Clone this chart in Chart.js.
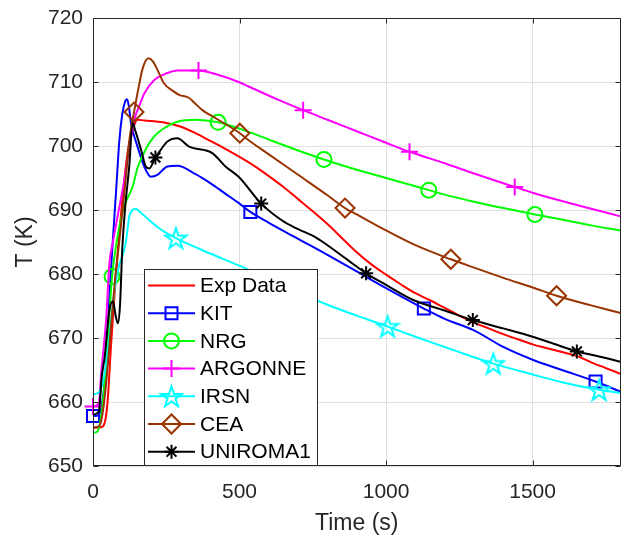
<!DOCTYPE html>
<html>
<head>
<meta charset="utf-8">
<script src="https://cdn.jsdelivr.net/npm/chart.js@4.4.0/dist/chart.umd.min.js"></script>
<style>
  html, body { margin: 0; padding: 0; background: #fff; }
</style>
</head>
<body>
<canvas id="chart" width="631" height="539"></canvas>
<script>
// ---- data (time in s, temperature in K) ----
const expTime = [0, 20, 34, 45, 51, 62, 73, 85, 90, 100, 110, 120, 130, 140, 152, 175, 200, 250, 300, 350, 400, 450, 500, 550, 600, 650, 700, 750, 800, 850, 900, 950, 1000, 1050, 1100, 1150, 1200, 1250, 1300, 1350, 1400, 1450, 1500, 1550, 1600, 1650, 1700, 1750, 1800];
const expTemp = [656.0, 656.0, 656.2, 658.0, 660.8, 669.2, 676.5, 683.8, 686.5, 691.5, 696.0, 699.5, 701.6, 703.2, 704.1, 704.0, 703.9, 703.6, 703.0, 702.0, 700.8, 699.6, 698.3, 696.9, 695.3, 693.6, 691.7, 689.8, 687.8, 685.6, 683.4, 681.5, 679.9, 678.4, 677.0, 675.9, 674.7, 673.5, 672.4, 671.5, 670.6, 669.8, 669.0, 668.4, 667.8, 667.2, 666.2, 665.3, 664.4];

const kitTime = [0, 20, 30, 45, 56, 68, 79, 90, 100, 110, 116, 122, 130, 152, 175, 197, 220, 254, 288, 350, 400, 450, 500, 537, 600, 700, 800, 900, 1000, 1100, 1129, 1200, 1300, 1400, 1500, 1600, 1715, 1800];
const kitTemp = [657.8, 658.0, 659.5, 666.0, 676.5, 685.5, 693.1, 700.9, 705.0, 707.0, 707.3, 706.3, 703.5, 699.9, 696.8, 695.2, 695.5, 696.8, 696.9, 695.6, 694.2, 692.6, 691.0, 689.7, 688.0, 685.5, 683.0, 680.4, 677.8, 675.3, 674.6, 673.0, 671.2, 668.6, 666.6, 665.0, 663.2, 661.6];

const nrgTime = [0, 15, 25, 40, 55, 65, 80, 95, 110, 135, 152, 180, 209, 250, 288, 350, 427, 500, 531, 600, 700, 788, 900, 1000, 1100, 1146, 1200, 1300, 1400, 1508, 1600, 1700, 1800];
const nrgTemp = [655.2, 655.4, 657.0, 663.2, 673.0, 679.6, 684.8, 688.5, 691.0, 693.6, 696.6, 699.5, 701.5, 703.0, 703.8, 704.1, 703.7, 702.7, 702.2, 701.0, 699.3, 697.9, 696.3, 695.0, 693.7, 693.1, 692.4, 691.3, 690.3, 689.3, 688.5, 687.6, 686.8];

const argTime = [0, 20, 28, 45, 56, 68, 79, 90, 107, 125, 141, 160, 175, 209, 254, 288, 360, 420, 497, 531, 633, 717, 800, 900, 1000, 1080, 1200, 1300, 1439, 1500, 1600, 1700, 1800];
const argTemp = [659.3, 659.8, 664.5, 673.0, 681.7, 685.0, 687.8, 690.5, 694.7, 700.0, 704.1, 706.5, 708.2, 710.3, 711.4, 711.8, 711.8, 711.2, 710.0, 709.3, 707.2, 705.6, 704.1, 702.3, 700.5, 699.1, 697.3, 695.7, 693.6, 692.7, 691.4, 690.2, 689.0];

const irsnTime = [0, 20, 30, 45, 60, 75, 90, 105, 113, 124, 135, 145, 165, 200, 240, 283, 400, 500, 600, 644, 700, 800, 900, 1005, 1100, 1200, 1300, 1366, 1500, 1600, 1727, 1800];
const irsnTemp = [661.2, 661.5, 662.5, 666.0, 672.0, 678.0, 681.5, 683.5, 685.3, 689.0, 690.0, 690.2, 689.5, 688.1, 686.7, 685.6, 683.2, 681.3, 679.2, 678.3, 677.1, 675.2, 673.5, 671.8, 670.2, 668.6, 667.0, 666.0, 664.3, 663.1, 661.9, 661.4];

const ceaTime = [0, 20, 30, 45, 60, 75, 90, 110, 124, 140, 155, 170, 189, 205, 220, 242, 276, 294, 328, 345, 373, 420, 501, 531, 600, 700, 800, 860, 900, 1000, 1100, 1221, 1300, 1400, 1500, 1582, 1700, 1800];
const ceaTemp = [656.0, 656.2, 657.5, 663.0, 671.0, 679.0, 685.3, 694.0, 700.9, 705.3, 709.0, 712.2, 713.7, 713.2, 711.9, 709.8, 708.5, 708.0, 707.5, 706.8, 705.6, 704.3, 702.0, 700.9, 698.7, 695.5, 692.3, 690.3, 689.3, 686.8, 684.5, 682.3, 681.0, 679.4, 677.9, 676.6, 675.1, 673.9];

const uniTime = [0, 20, 30, 40, 56, 68, 78, 85, 92, 100, 110, 124, 135, 145, 164, 180, 192, 213, 231, 254, 288, 328, 407, 452, 497, 574, 644, 700, 757, 800, 869, 932, 1000, 1095, 1200, 1296, 1400, 1478, 1560, 1651, 1720, 1800];
const uniTemp = [658.0, 658.5, 664.0, 667.1, 674.4, 675.7, 673.3, 672.3, 675.0, 684.0, 690.5, 697.0, 703.6, 702.3, 699.4, 696.8, 696.5, 698.2, 699.4, 700.7, 701.2, 699.9, 698.9, 696.8, 695.2, 691.0, 688.4, 687.0, 685.8, 684.5, 682.2, 680.1, 678.3, 675.9, 674.3, 672.8, 671.5, 670.5, 669.3, 667.9, 667.2, 666.3];

// times where the markers sit
const kitMarks = [0, 537, 1129, 1715];
const nrgMarks = [65, 427, 788, 1146, 1508];
const argMarks = [0, 360, 717, 1080, 1439];
const irsnMarks = [283, 644, 1005, 1366, 1727];
const ceaMarks = [140, 501, 860, 1221, 1582];
const uniMarks = [213, 574, 932, 1296, 1651];

const xTicks = [0, 500, 1000, 1500];
const yTicks = [650, 660, 670, 680, 690, 700, 710, 720];

const FONT = "'Liberation Sans', Arial, Helvetica, sans-serif";
const AXIS = '#262626';

// pentagram marker (no built-in one in Chart.js)
function starPath(ctx, cx, cy, R) {
    const r = R * 0.382;
    ctx.beginPath();
    for (let i = 0; i < 10; i++) {
        const a = -Math.PI / 2 + i * Math.PI / 5;
        const rr = i % 2 ? r : R;
        ctx.lineTo(cx + rr * Math.cos(a), cy + rr * Math.sin(a));
    }
    ctx.closePath();
}
const starImg = document.createElement('canvas');
starImg.width = 26; starImg.height = 26;
(function () {
    const c = starImg.getContext('2d');
    c.strokeStyle = '#00ffff';
    c.lineWidth = 2;
    c.lineJoin = 'miter';
    starPath(c, 13, 14, 11);
    c.stroke();
})();

function pts(t, v) {
    return t.map((x, i) => ({ x: x, y: v[i] }));
}

function series(label, t, v, color, style, radius, marks, order) {
    return {
        label: label,
        data: pts(t, v),
        borderColor: color,
        backgroundColor: color,
        borderWidth: 2,
        pointStyle: style,
        pointBorderColor: color,
        pointBackgroundColor: 'rgba(0,0,0,0)',
        pointBorderWidth: 2,
        pointRadius: ctx => (marks.includes(t[ctx.dataIndex]) ? radius : 0),
        pointHoverRadius: 0,
        cubicInterpolationMode: 'monotone',
        clip: false,
        order: order
    };
}

const datasets = [
    series('Exp Data', expTime, expTemp, '#ff0000', 'circle', 0, [], 7),
    series('KIT', kitTime, kitTemp, '#0000ff', 'rect', 8.5, kitMarks, 6),
    series('NRG', nrgTime, nrgTemp, '#00ff00', 'circle', 7.5, nrgMarks, 5),
    series('ARGONNE', argTime, argTemp, '#ff00ff', 'cross', 8.5, argMarks, 4),
    series('IRSN', irsnTime, irsnTemp, '#00ffff', starImg, 11, irsnMarks, 3),
    series('CEA', ceaTime, ceaTemp, '#993300', 'rectRot', 9.5, ceaMarks, 2),
    series('UNIROMA1', uniTime, uniTemp, '#000000', 'star', 7, uniMarks, 1)
];

const legendMarks = [null, 'square', 'circle', 'plus', 'pentagram', 'diamond', 'asterisk'];

function drawMarker(ctx, kind, x, y, color) {
    ctx.save();
    ctx.strokeStyle = color;
    ctx.lineWidth = 2;
    ctx.beginPath();
    if (kind === 'square') {
        ctx.rect(x - 6, y - 6, 12, 12);
    } else if (kind === 'circle') {
        ctx.arc(x, y, 7.5, 0, Math.PI * 2);
    } else if (kind === 'plus') {
        ctx.moveTo(x - 8.5, y); ctx.lineTo(x + 8.5, y);
        ctx.moveTo(x, y - 8.5); ctx.lineTo(x, y + 8.5);
    } else if (kind === 'pentagram') {
        starPath(ctx, x, y + 1, 11);
    } else if (kind === 'diamond') {
        ctx.moveTo(x - 9.5, y); ctx.lineTo(x, y - 9.5);
        ctx.lineTo(x + 9.5, y); ctx.lineTo(x, y + 9.5);
        ctx.closePath();
    } else if (kind === 'asterisk') {
        const d = 7 * Math.SQRT1_2;
        ctx.moveTo(x - 7, y); ctx.lineTo(x + 7, y);
        ctx.moveTo(x, y - 7); ctx.lineTo(x, y + 7);
        ctx.moveTo(x - d, y - d); ctx.lineTo(x + d, y + d);
        ctx.moveTo(x - d, y + d); ctx.lineTo(x + d, y - d);
    }
    ctx.stroke();
    ctx.restore();
}

// box around the axes, inward ticks and the legend box inside the plot
const framePlugin = {
    id: 'frame',
    afterDatasetsDraw(chart) {
        const ctx = chart.ctx;
        const a = chart.chartArea;
        const xs = chart.scales.x, ys = chart.scales.y;
        const L = Math.round(a.left) + 0.5, R = Math.round(a.right) - 0.5;
        const T = Math.round(a.top) + 0.5, B = Math.round(a.bottom) - 0.5;
        ctx.save();
        ctx.strokeStyle = AXIS;
        ctx.lineWidth = 1;
        ctx.beginPath();
        ctx.rect(L, T, R - L, B - T);
        xTicks.forEach(v => {
            const px = Math.round(xs.getPixelForValue(v)) + 0.5;
            ctx.moveTo(px, B); ctx.lineTo(px, B - 5);
            ctx.moveTo(px, T); ctx.lineTo(px, T + 5);
        });
        yTicks.forEach(v => {
            const py = Math.round(ys.getPixelForValue(v)) + 0.5;
            ctx.moveTo(L, py); ctx.lineTo(L + 5, py);
            ctx.moveTo(R, py); ctx.lineTo(R - 5, py);
        });
        ctx.stroke();

        // legend
        const bx = 144.5, by = 269.5, bw = 173, bh = B - by;
        ctx.fillStyle = '#ffffff';
        ctx.fillRect(bx, by, bw, bh);
        ctx.strokeStyle = AXIS;
        ctx.strokeRect(bx, by, bw, bh);
        ctx.font = '21px ' + FONT;
        ctx.textBaseline = 'middle';
        ctx.textAlign = 'left';
        chart.data.datasets.forEach((ds, i) => {
            const y = 285.5 + i * 27.7;
            ctx.strokeStyle = ds.borderColor;
            ctx.lineWidth = 2;
            ctx.beginPath();
            ctx.moveTo(148, y); ctx.lineTo(195, y);
            ctx.stroke();
            if (legendMarks[i]) drawMarker(ctx, legendMarks[i], 171.5, y, ds.borderColor);
            ctx.fillStyle = '#000000';
            ctx.fillText(ds.label, 200, y + 1);
        });
        ctx.restore();
    }
};

Chart.defaults.font.family = FONT;
Chart.defaults.color = AXIS;

new Chart(document.getElementById('chart'), {
    type: 'line',
    data: { datasets: datasets },
    options: {
        responsive: false,
        animation: false,
        devicePixelRatio: 1,
        layout: { padding: { top: 18, right: 6, left: 0, bottom: 0 } },
        plugins: {
            legend: { display: false },
            tooltip: { enabled: false }
        },
        scales: {
            x: {
                type: 'linear',
                min: 0,
                max: 1800,
                afterBuildTicks: s => { s.ticks = xTicks.map(v => ({ value: v })); },
                afterFit: s => { s.height = 73; },
                grid: { color: '#dfdfdf', drawTicks: false },
                border: { display: false },
                ticks: { font: { size: 21 }, color: AXIS, padding: 14, maxRotation: 0, callback: v => String(v) },
                title: { display: true, text: 'Time (s)', font: { size: 23 }, color: AXIS, padding: { top: 0, bottom: 2 } }
            },
            y: {
                type: 'linear',
                min: 650,
                max: 720,
                afterBuildTicks: s => { s.ticks = yTicks.map(v => ({ value: v })); },
                afterFit: s => { s.width = 93; s.paddingTop = 0; s.paddingBottom = 0; },
                grid: { color: '#dfdfdf', drawTicks: false },
                border: { display: false },
                ticks: { font: { size: 21 }, color: AXIS, padding: 10, callback: v => String(v) },
                title: { display: true, text: 'T (K)', font: { size: 23 }, color: AXIS, padding: { top: 12, bottom: 0 } }
            }
        }
    },
    plugins: [framePlugin]
});
</script>
</body>
</html>
